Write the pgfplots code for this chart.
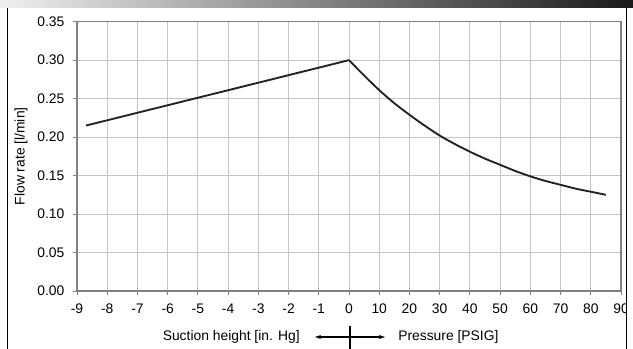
\documentclass[border=0pt]{standalone}
\usepackage{fontspec}
\setmainfont{Liberation Sans}
\usepackage{pgfplots}
\pgfplotsset{compat=1.18}
\usetikzlibrary{arrows.meta}
\definecolor{framegray}{HTML}{808080}
\definecolor{gridgray}{HTML}{C4C4C4}
\definecolor{curve}{HTML}{222222}
\begin{document}
\begin{tikzpicture}
\useasboundingbox (0,0) rectangle (474.75pt,261.75pt);
\shade[left color=black!6, right color=black!90] (0,255.75pt) rectangle (474.75pt,261.75pt);
\begin{axis}[
  at={(57.75pt,43.5pt)}, anchor=south west,
  scale only axis, width=408pt, height=202pt,
  xmin=-9, xmax=9, ymin=0, ymax=0.35,
  xtick={-9,-8,-7,-6,-5,-4,-3,-2,-1,0,1,2,3,4,5,6,7,8,9},
  xticklabels={-9,-8,-7,-6,-5,-4,-3,-2,-1,0,10,20,30,40,50,60,70,80,90},
  ytick={0,0.05,0.1,0.15,0.2,0.25,0.3,0.35},
  yticklabel style={/pgf/number format/fixed, /pgf/number format/fixed zerofill, /pgf/number format/precision=2, xshift=-3pt},
  /pgf/number format/assume math mode=true,
  grid=major,
  major grid style={gridgray, line width=0.6pt},
  axis line style={framegray, line width=1pt},
  tick style={framegray, line width=0.6pt},
  tick align=outside, major tick length=3pt,
  xtick pos=bottom, ytick pos=left,
  xticklabel style={yshift=-3pt},
  ylabel={Flow rate [l/min]},
  every axis y label/.append style={at={(axis description cs:-0.103,0.5)}, anchor=center},
  tick label style={font=\fontsize{10.4}{12}\selectfont},
  label style={font=\fontsize{10.4}{12}\selectfont},
  clip=false,
]
\addplot[curve, line width=1.4pt] coordinates {(-8.7,0.215) (0,0.300)};
\addplot[curve, line width=1.4pt, smooth, tension=0.5] coordinates {
(0,0.300) (0.5,0.280) (1.0,0.261) (1.5,0.244) (2.0,0.229) (2.5,0.215)
(3.0,0.202) (3.5,0.191) (4.0,0.181) (4.5,0.172) (5.0,0.164) (5.5,0.156)
(6.0,0.149) (6.5,0.143) (7.0,0.138) (7.5,0.133) (8.0,0.129) (8.5,0.125)};
\end{axis}
\fill[white] (470.25pt,0) rectangle (474.75pt,255.75pt);
\draw[black, line width=1.1pt] (5.6pt,0) -- (5.6pt,255.75pt);
\draw[black, line width=1.1pt] (469.8pt,0) -- (469.8pt,255.75pt);
\node[anchor=east, inner sep=0pt, font=\fontsize{10.4}{12}\selectfont] at (225pt,9pt) {Suction height [in. Hg]};
\node[anchor=west, inner sep=0pt, font=\fontsize{10.4}{12}\selectfont] at (298.5pt,9pt) {Pressure [PSIG]};
\draw[{Stealth[length=4.5pt,width=3pt]}-{Stealth[length=4.5pt,width=3pt]}, line width=0.8pt] (236.25pt,9pt) -- (288.75pt,9pt);
\draw[line width=0.8pt] (262.5pt,0) -- (262.5pt,17.25pt);
\end{tikzpicture}
\end{document}
